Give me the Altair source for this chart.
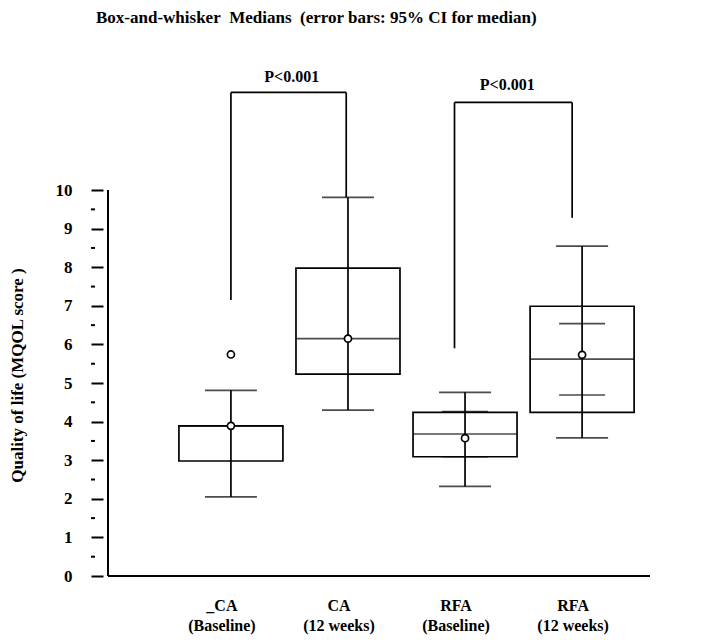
import altair as alt
import pandas as pd

# ---- data ----
positions = [1, 2, 3, 4]
group_labels = ["_CA\n(Baseline)", "CA\n(12 weeks)", "RFA\n(Baseline)", "RFA\n(12 weeks)"]
whisker_low = [2.05, 4.30, 2.32, 3.58]
box_low = [2.98, 5.23, 3.09, 4.24]
medians = [3.89, 6.15, 3.68, 5.62]
box_high = [3.89, 7.98, 4.24, 6.99]
whisker_high = [4.81, 9.81, 4.76, 8.55]
circle_values = [3.89, 6.15, 3.57, 5.73]

ci_positions = [3, 4]
ci_low = [3.09, 4.69]
ci_high = [4.26, 6.54]

outlier_positions = [1]
outlier_values = [5.74]

bracket_left = [1.0, 2.91]
bracket_right = [1.985, 3.915]
bracket_top = [12.53, 12.27]
bracket_left_end = [7.15, 5.90]
bracket_right_end = [9.81, 9.28]
p_labels = ["P<0.001", "P<0.001"]
p_x = [1.52, 3.36]
p_y = [12.81, 12.59]

chart_title = ["Box-and-whisker\u00a0 Medians\u00a0 (error bars: 95% CI for median)"]
y_title = "Quality of life (MQOL score )"

y_ticks = [0, 1, 2, 3, 4, 5, 6, 7, 8, 9, 10]
y_minor = [0.5, 1.5, 2.5, 3.5, 4.5, 5.5, 6.5, 7.5, 8.5, 9.5]
axis_x_range = [-0.05, 4.58]
axis_y_range = [0, 10]
y_domain = [0, 13.5]

FONT = "Liberation Serif"
LW = 1.7

boxes = pd.DataFrame({
    "pos": positions, "label": group_labels, "wlo": whisker_low, "blo": box_low,
    "med": medians, "bhi": box_high, "whi": whisker_high, "circ": circle_values,
})
ci = pd.DataFrame({"pos": ci_positions, "lo": ci_low, "hi": ci_high})
outl = pd.DataFrame({"pos": outlier_positions, "v": outlier_values})
legs = pd.DataFrame({
    "x": bracket_left + bracket_right,
    "y1": bracket_left_end + bracket_right_end,
    "y2": bracket_top + bracket_top,
})
tops = pd.DataFrame({"x1": bracket_left, "x2": bracket_right, "y": bracket_top})
ptext = pd.DataFrame({"x": p_x, "y": p_y, "t": p_labels})
minor = pd.DataFrame({"v": y_minor})
yline = pd.DataFrame({"x": [axis_x_range[0]], "y1": [axis_y_range[0]], "y2": [axis_y_range[1]]})
xline = pd.DataFrame({"x1": [axis_x_range[0]], "x2": [axis_x_range[1]], "y": [0]})
title_df = pd.DataFrame({"t": chart_title})

xscale = alt.Scale(domain=axis_x_range, nice=False, zero=False)
yscale = alt.Scale(domain=y_domain, nice=False, zero=False)

y_axis = alt.Axis(
    values=y_ticks, domain=False, grid=False, tickSize=12, tickWidth=2,
    tickColor="black", labelPadding=19, labelFont=FONT, labelFontSize=17,
    labelFontWeight="bold", labelColor="black", labelFlush=False,
    labelOverlap=False, format="d",
    title=y_title, titleFont=FONT, titleFontSize=17,
    titleFontWeight="bold", titleColor="black", titleAngle=270,
    titleX=-86, titleY=320, titleAlign="center", titleBaseline="middle",
)


def X(field):
    return alt.X(field, type="quantitative", scale=xscale, axis=None)


def Y(field):
    return alt.Y(field, type="quantitative", scale=yscale, axis=y_axis)


base = alt.Chart(boxes)

whisk = base.mark_rule(color="black", strokeWidth=LW).encode(
    x=X("pos"), y=Y("wlo"), y2="whi")
box = base.mark_bar(size=104, fillOpacity=0, stroke="black", strokeWidth=LW).encode(
    x=X("pos"), y=Y("blo"), y2="bhi")
cap_hi = base.mark_tick(orient="horizontal", size=52, thickness=LW, color="black").encode(
    x=X("pos"), y=Y("whi"))
cap_lo = base.mark_tick(orient="horizontal", size=52, thickness=LW, color="black").encode(
    x=X("pos"), y=Y("wlo"))
med = base.mark_tick(orient="horizontal", size=104, thickness=LW, color="black").encode(
    x=X("pos"), y=Y("med"))
ci_hi_t = alt.Chart(ci).mark_tick(orient="horizontal", size=46, thickness=LW, color="black").encode(
    x=X("pos"), y=Y("hi"))
ci_lo_t = alt.Chart(ci).mark_tick(orient="horizontal", size=46, thickness=LW, color="black").encode(
    x=X("pos"), y=Y("lo"))
circ = base.mark_point(shape="circle", size=50, filled=True, fill="white", fillOpacity=1,
                       stroke="black", strokeWidth=LW, opacity=1).encode(
    x=X("pos"), y=Y("circ"))
out = alt.Chart(outl).mark_point(shape="circle", size=50, filled=True, fill="white", fillOpacity=1,
                                 stroke="black", strokeWidth=LW, opacity=1).encode(
    x=X("pos"), y=Y("v"))
labels = base.mark_text(font=FONT, fontSize=16, fontWeight="bold", lineBreak="\n",
                        baseline="top", align="center", dx=-9, color="black",
                        lineHeight=20).encode(
    x=X("pos"), y=alt.value(543), text="label")

leg_rules = alt.Chart(legs).mark_rule(color="black", strokeWidth=LW).encode(
    x=X("x"), y=Y("y1"), y2="y2")
top_rules = alt.Chart(tops).mark_rule(color="black", strokeWidth=LW).encode(
    x=X("x1"), x2="x2", y=Y("y"))
p_marks = alt.Chart(ptext).mark_text(font=FONT, fontSize=16, fontWeight="bold",
                                     baseline="alphabetic", align="center", color="black").encode(
    x=X("x"), y=Y("y"), text="t")

minor_ticks = alt.Chart(minor).mark_rule(color="black", strokeWidth=2).encode(
    y=Y("v"), x=alt.value(-12), x2=alt.value(-8))
y_line = alt.Chart(yline).mark_rule(color="black", strokeWidth=2).encode(
    x=X("x"), y=Y("y1"), y2="y2")
x_line = alt.Chart(xline).mark_rule(color="black", strokeWidth=2).encode(
    x=X("x1"), x2="x2", y=Y("y"))

title_mark = alt.Chart(title_df).mark_text(font=FONT, fontSize=17, fontWeight="bold",
                                           baseline="alphabetic", align="left",
                                           color="black").encode(
    x=alt.value(-7), y=alt.value(-32), text="t")

chart = alt.layer(
    minor_ticks, y_line, x_line, whisk, box, cap_hi, cap_lo, med, ci_hi_t, ci_lo_t,
    leg_rules, top_rules, circ, out, labels, p_marks, title_mark,
).properties(
    width=552, height=521,
    autosize="none",
    background="white",
    padding={"left": 95, "top": 47, "right": 20, "bottom": 66},
).configure_view(stroke=None)

chart.save("out.html", embed_options={"renderer": "svg", "actions": False})
